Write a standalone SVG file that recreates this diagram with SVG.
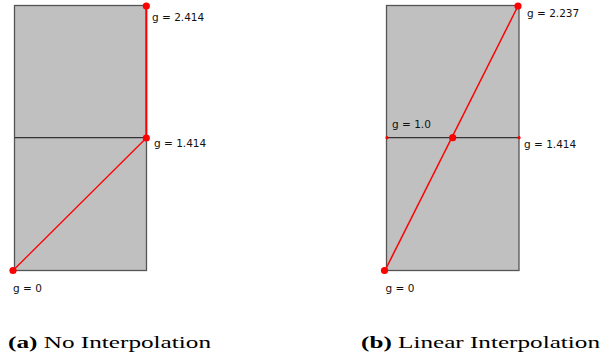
<svg xmlns="http://www.w3.org/2000/svg" width="602" height="355" viewBox="0 0 602 355">
<style>
.cell{fill:#c0c0c0;stroke:#555;stroke-width:1.3}
.grid{stroke:#333;stroke-width:1.2}
.red{stroke:#ff0000;fill:none}
.dot{fill:#ff0000}
.lbl{font-family:"DejaVu Sans",sans-serif;font-size:10.5px;fill:#111}
.cap{font-family:"Liberation Serif",serif;font-size:17.5px;fill:#000}
.b{font-weight:bold}
</style>
<rect width="602" height="355" fill="#fff"/>
<g id="gridA">
<rect class="cell" x="14.5" y="5.5" width="132" height="265"/>
<line class="grid" x1="14.5" y1="137.7" x2="146.5" y2="137.7"/>
</g>
<g id="gridB">
<rect class="cell" x="386.5" y="5.5" width="132.5" height="265"/>
<line class="grid" x1="386.5" y1="137.7" x2="519" y2="137.7"/>
</g>
<g id="connectors">
<line class="red" x1="146.3" y1="6" x2="146.3" y2="138" stroke-width="2"/>
<line class="red" x1="146.3" y1="138" x2="13" y2="270.5" stroke-width="1.3"/>
<line class="red" x1="518" y1="6" x2="385" y2="270.5" stroke-width="1.5"/>
</g>
<g id="nodeA0"><circle class="dot" cx="13" cy="270.5" r="3.6"/><text class="lbl" x="13" y="292">g = 0</text></g>
<g id="nodeA1"><circle class="dot" cx="146.3" cy="138" r="3.6"/><text class="lbl" x="154" y="147">g = 1.414</text></g>
<g id="nodeA2"><circle class="dot" cx="146.3" cy="6" r="3.6"/><text class="lbl" x="152" y="21">g = 2.414</text></g>
<g id="nodeB0"><circle class="dot" cx="384.5" cy="270.5" r="3.6"/><text class="lbl" x="385.5" y="292">g = 0</text></g>
<g id="nodeB1"><circle class="dot" cx="452.7" cy="137.7" r="3.6"/></g>
<g id="nodeB2"><circle class="dot" cx="518" cy="6" r="3.6"/><text class="lbl" x="527" y="17">g = 2.237</text></g>
<g id="nodeB3"><circle class="dot" cx="387" cy="137.7" r="1.6"/><text class="lbl" x="392" y="128">g = 1.0</text></g>
<g id="nodeB4"><circle class="dot" cx="519" cy="137.7" r="1.6"/><text class="lbl" x="524" y="148">g = 1.414</text></g>
<text class="cap" x="8" y="348" textLength="203" lengthAdjust="spacingAndGlyphs"><tspan class="b">(a)</tspan> No Interpolation</text>
<text class="cap" x="361" y="348" textLength="239" lengthAdjust="spacingAndGlyphs"><tspan class="b">(b)</tspan> Linear Interpolation</text>
</svg>
